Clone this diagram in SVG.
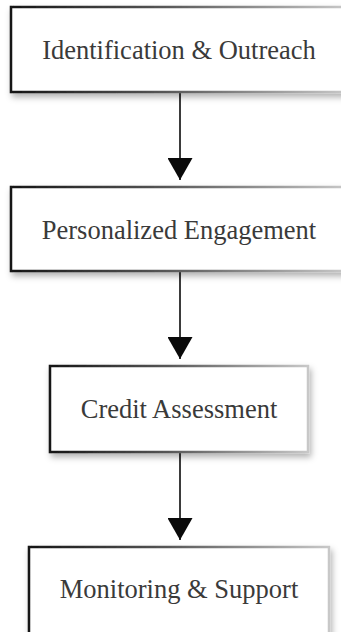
<svg xmlns="http://www.w3.org/2000/svg" width="341" height="632" viewBox="0 0 341 632">
  <defs>
    <!-- box outline darkens on the left and fades to grey on the right -->
    <linearGradient id="edge" x1="0" y1="0" x2="1" y2="0">
      <stop offset="0" stop-color="#151515"/>
      <stop offset="0.45" stop-color="#555"/>
      <stop offset="1" stop-color="#c8c8c8"/>
    </linearGradient>
    <filter id="shadow" x="-10%" y="-20%" width="125%" height="160%">
      <feDropShadow dx="2" dy="4" stdDeviation="3" flood-color="#000" flood-opacity="0.3"/>
    </filter>
    <!-- solid triangular head, drawn along +x so orient="auto" points it down the line -->
    <marker id="arrow" markerWidth="22" markerHeight="25" refX="22" refY="12.5" orient="auto" markerUnits="userSpaceOnUse" viewBox="0 0 22 25">
      <path d="M0,0 L22,12.5 L0,25 Z" fill="#0a0a0a"/>
    </marker>
  </defs>
  <style>
    .box { fill: #ffffff; stroke: url(#edge); stroke-width: 2.5; filter: url(#shadow); }
    .label { font-family: "Times New Roman", Times, "Liberation Serif", "Noto Serif", "DejaVu Serif", "Nimbus Roman", FreeSerif, serif; font-size: 26.5px; fill: #3a3a3a; text-anchor: middle; }
    .link { stroke: #0a0a0a; stroke-width: 1.6; fill: none; marker-end: url(#arrow); }
  </style>
  <rect width="341" height="632" fill="#ffffff"/>

  <g id="connectors">
    <line class="link" x1="180" y1="93" x2="180" y2="180"/>
    <line class="link" x1="180" y1="272" x2="180" y2="359"/>
    <line class="link" x1="180" y1="453" x2="180" y2="540"/>
  </g>

  <g id="identification-outreach">
    <rect class="box" x="11" y="7" width="336" height="85"/>
    <text class="label" x="179" y="59">Identification &amp; Outreach</text>
  </g>

  <g id="personalized-engagement">
    <rect class="box" x="11" y="187" width="336" height="84"/>
    <text class="label" x="179" y="239">Personalized Engagement</text>
  </g>

  <g id="credit-assessment">
    <rect class="box" x="50" y="366" width="258" height="86"/>
    <text class="label" x="179" y="418">Credit Assessment</text>
  </g>

  <g id="monitoring-support">
    <rect class="box" x="29" y="547" width="300" height="95"/>
    <text class="label" x="179" y="598">Monitoring &amp; Support</text>
  </g>
</svg>
